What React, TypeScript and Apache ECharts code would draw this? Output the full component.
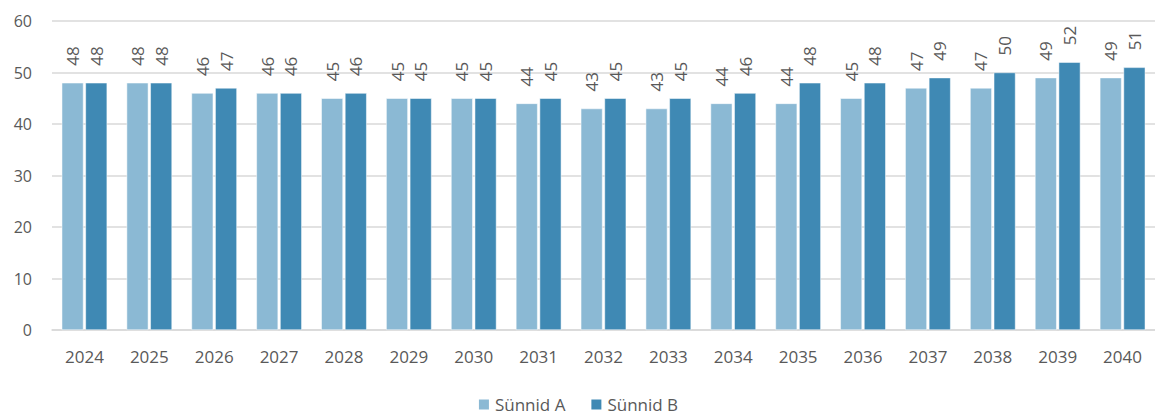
import React, { useEffect, useRef } from "react";
import * as echarts from "echarts";

const categories = ["2024","2025","2026","2027","2028","2029","2030","2031","2032","2033","2034","2035","2036","2037","2038","2039","2040"];
const seriesA = [48,48,46,46,45,45,45,44,43,43,44,44,45,47,47,49,49];
const seriesB = [48,48,47,46,46,45,45,45,45,45,46,48,48,49,50,52,51];
const seriesNames = ["Sünnid A", "Sünnid B"];
const colors = ["#8BB9D4", "#3F89B4"];

export default function App() {
  const ref = useRef<HTMLDivElement>(null);
  useEffect(() => {
    document.body.style.margin = "0";
    const chart = echarts.init(ref.current!, null, { renderer: "svg" });
    const font = "'Open Sans', sans-serif";
    const label = {
      show: true,
      position: "top",
      rotate: 90,
      align: "left",
      verticalAlign: "middle",
      distance: 17,
      fontSize: 17,
      color: "#595959",
      fontFamily: font,
    };
    chart.setOption({
      animation: false,
      color: colors,
      grid: { left: 52, right: -12, top: 21, bottom: 86 },
      legend: {
        bottom: -2,
        left: "center",
        itemWidth: 12,
        itemHeight: 12,
        itemGap: 24,
        icon: "rect",
        textStyle: { fontSize: 17, color: "#595959", fontFamily: font },
        data: seriesNames,
      },
      xAxis: {
        type: "category",
        data: categories,
        axisTick: { show: false },
        axisLine: { lineStyle: { color: "#d9d9d9", width: 1.5 } },
        axisLabel: { fontSize: 17, color: "#595959", margin: 18, fontFamily: font },
      },
      yAxis: {
        type: "value",
        min: 0,
        max: 60,
        interval: 10,
        axisLabel: { fontSize: 16, color: "#595959", margin: 20, fontFamily: font },
        splitLine: { lineStyle: { color: "#d9d9d9", width: 1.5 } },
      },
      series: [
        {
          name: seriesNames[0],
          type: "bar",
          data: seriesA,
          barGap: "9%",
          barCategoryGap: "30%",
          itemStyle: { color: colors[0], borderColor: "#ffffff", borderWidth: 0.5 },
          label,
        },
        {
          name: seriesNames[1],
          type: "bar",
          data: seriesB,
          barGap: "9%",
          barCategoryGap: "30%",
          itemStyle: { color: colors[1], borderColor: "#ffffff", borderWidth: 0.5 },
          label,
        },
      ],
    });
    return () => chart.dispose();
  }, []);
  return <div ref={ref} style={{ width: 1155, height: 416 }} />;
}
